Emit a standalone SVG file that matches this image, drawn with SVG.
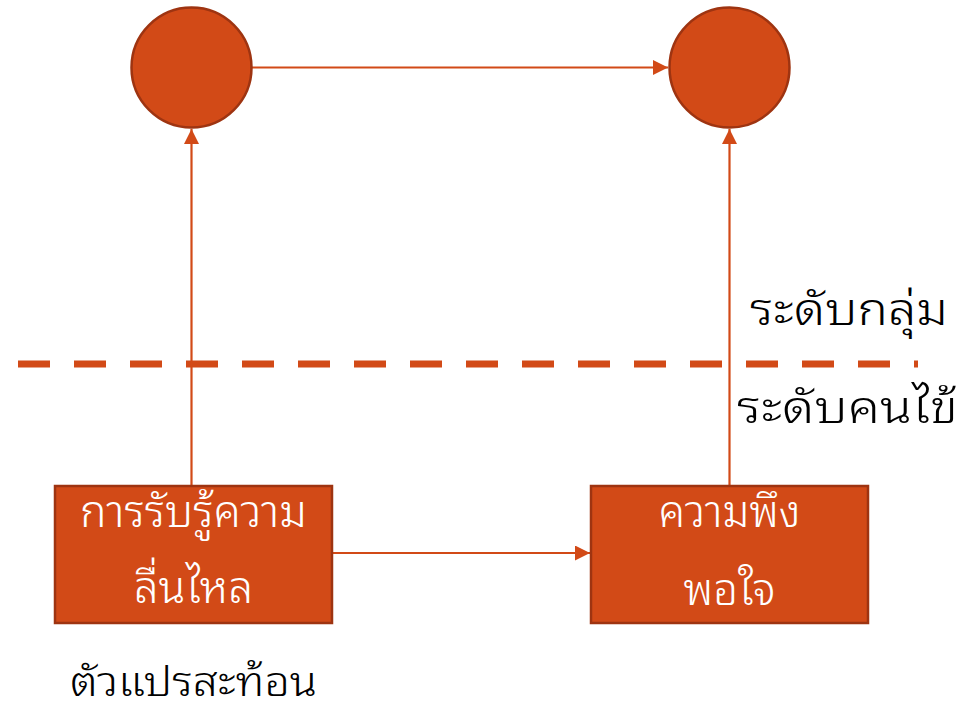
<svg xmlns="http://www.w3.org/2000/svg" width="972" height="712" viewBox="0 0 972 712">
<style>
.node{fill:#D24A17;stroke:#9E3411;stroke-width:2.5}
.edge{stroke:#D24A17;stroke-width:2.2;fill:none}
.wt{font-family:"Noto Sans Thai Looped","Noto Sans Thai","Noto Sans","Liberation Sans",sans-serif;font-size:44px;font-weight:300;fill:#ffffff;text-anchor:middle}
.bt{font-family:"Noto Sans Thai Looped","Noto Sans Thai","Noto Sans","Liberation Sans",sans-serif;font-size:44px;font-weight:300;fill:#000000}
</style>
<defs>
<marker id="ah" markerUnits="userSpaceOnUse" markerWidth="16" markerHeight="16" refX="15" refY="7.5" orient="auto">
<path d="M0,0 L15,7.5 L0,15 Z" fill="#D24A17"/>
</marker>
</defs>
<rect width="972" height="712" fill="#ffffff"/>
<line x1="18" y1="364" x2="918" y2="364" stroke="#D24A17" stroke-width="7" stroke-dasharray="32 24"/>
<g id="connectors">
<line class="edge" x1="191.5" y1="486" x2="191.5" y2="129" marker-end="url(#ah)"/>
<line class="edge" x1="729.5" y1="486" x2="729.5" y2="129" marker-end="url(#ah)"/>
<line class="edge" x1="252" y1="67.5" x2="668" y2="67.5" marker-end="url(#ah)"/>
<line class="edge" x1="333" y1="553" x2="590" y2="553" marker-end="url(#ah)"/>
</g>
<g id="circle1"><circle class="node" cx="191.5" cy="67.5" r="60"/></g>
<g id="circle2"><circle class="node" cx="729.5" cy="67.5" r="60"/></g>
<g id="box1">
<rect class="node" x="55" y="486" width="277" height="137"/>
<text class="wt" x="193.5" y="527" textLength="227" lengthAdjust="spacingAndGlyphs">การรับรู้ความ</text>
<text class="wt" x="193.5" y="603" textLength="119" lengthAdjust="spacingAndGlyphs">ลื่นไหล</text>
</g>
<g id="box2">
<rect class="node" x="591" y="486" width="277" height="137"/>
<text class="wt" x="729.5" y="527" textLength="142" lengthAdjust="spacingAndGlyphs">ความพึง</text>
<text class="wt" x="729.5" y="605" textLength="92" lengthAdjust="spacingAndGlyphs">พอใจ</text>
</g>
<g id="labels">
<text class="bt" x="750" y="325" textLength="198" lengthAdjust="spacingAndGlyphs">ระดับกลุ่ม</text>
<text class="bt" x="737" y="423" textLength="221" lengthAdjust="spacingAndGlyphs">ระดับคนไข้</text>
<text class="bt" x="70" y="696" style="font-size:40px" textLength="247" lengthAdjust="spacingAndGlyphs">ตัวแปรสะท้อน</text>
</g>
</svg>
